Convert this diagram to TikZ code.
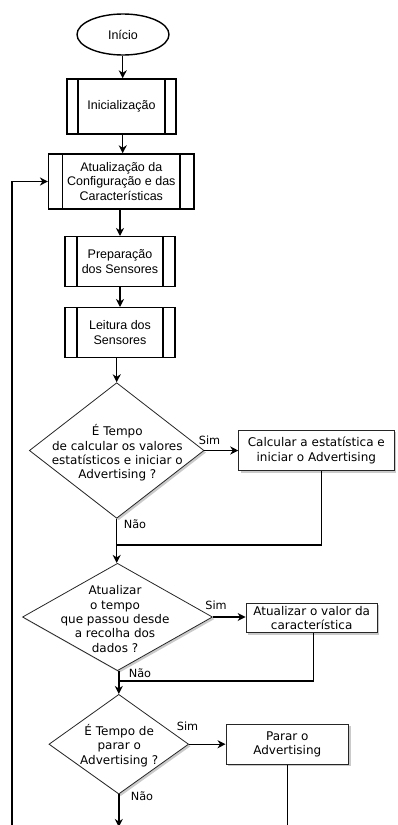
\documentclass[tikz,border=0pt]{standalone}
\usepackage{fontspec}
\setmainfont{Liberation Sans}
\newfontfamily\dejavu{DejaVu Sans}
\usetikzlibrary{shapes.geometric,arrows.meta,shadows}

\tikzset{
  basefont/.style={font=\fontsize{12.5}{14.6}\selectfont},
  lowfont/.style={font=\dejavu\fontsize{12}{14.4}\selectfont},
  labfont/.style={font=\dejavu\fontsize{11.3}{12}\selectfont},
  terminal/.style={ellipse, draw, line width=1.4pt, inner sep=0pt, basefont},
  subproc/.style={rectangle, draw, line width=1.4pt, inner sep=0pt, align=center, basefont,
    path picture={
      \draw[line width=1.4pt]
        ([xshift=#1]path picture bounding box.north west) -- ([xshift=#1]path picture bounding box.south west)
        ([xshift=-#1]path picture bounding box.north east) -- ([xshift=-#1]path picture bounding box.south east);
    }},
  shadowed/.style={drop shadow={shadow xshift=2pt, shadow yshift=-2pt, opacity=0.35, fill=black!60}},
  procbox/.style={rectangle, draw=black!85, line width=0.8pt, fill=white, shadowed, inner sep=0pt, align=center, lowfont},
  decision/.style={diamond, draw=black!85, line width=0.8pt, fill=white, shadowed, inner sep=0pt},
  dectext/.style={align=center, inner sep=0pt, lowfont},
  lab/.style={inner sep=0pt, labfont},
  link/.style={line width=1.4pt, line join=miter},
  arr/.style={link, -{Stealth[length=8pt, width=8pt, inset=2.5pt]}},
}

\begin{document}
\begin{tikzpicture}[x=1pt, y=-1pt]
  \useasboundingbox (0,0) rectangle (397,825);
  \clip (0,0) rectangle (397,825);

  % main column
  \node[terminal, minimum width=92pt, minimum height=41pt] (start) at (123,34.5) {Início};
  \node[subproc=11pt, minimum width=109pt, minimum height=55pt] (init) at (121.5,106.5) {Inicialização};
  \node[subproc=14pt, minimum width=145.3pt, minimum height=55pt] (update) at (121.3,181.5)
    {Atualização da\\Configuração e das\\Características};
  \node[subproc=12pt, minimum width=110pt, minimum height=50pt] (prep) at (120,261.7)
    {Preparação\\dos Sensores};
  \node[subproc=12pt, minimum width=110pt, minimum height=49.6pt] (read) at (120,332.5)
    {Leitura dos\\Sensores};

  % decisions
  \node[decision, minimum width=174.7pt, minimum height=135.6pt] (d1) at (116.7,450.5) {};
  \node[dectext] (d1t) at (117.3,453) {É Tempo\\de calcular os valores\\estatísticos e iniciar o\\Advertising ?};
  \node[decision, minimum width=190pt, minimum height=107.4pt] (d2) at (117.5,617) {};
  \node[dectext] (d2t) at (115,619) {Atualizar\\o tempo\\que passou desde\\a recolha dos\\dados ?};
  \node[decision, minimum width=139.7pt, minimum height=99.7pt] (d3) at (118.8,744.2) {};
  \node[dectext] (d3t) at (119.2,745.3) {É Tempo de\\parar o\\Advertising ?};

  % actions
  \node[procbox, minimum width=155.3pt, minimum height=40.7pt] (calc) at (316.3,450.3)
    {Calcular a estatística e\\iniciar o Advertising};
  \node[procbox, minimum width=131.3pt, minimum height=29.4pt] (feat) at (311.7,618)
    {Atualizar o valor da\\característica};
  \node[procbox, minimum width=122.7pt, minimum height=40.3pt] (stop) at (287.3,744.2)
    {Parar o\\Advertising};

  % free ends and junctions
  \coordinate (j1) at (116.7,545);
  \coordinate (j2) at (118.8,681);
  \coordinate (loopend) at (12,830);
  \coordinate (d3out) at (118.8,827);
  \coordinate (stopout) at (287.3,830);

  % connectors of the main column
  \draw[arr] (start.south -| 122.7,0) -- (init.north -| 122.7,0);
  \draw[arr] (init.south -| 122.7,0) -- (update.north -| 122.7,0);
  \draw[arr] (update.south -| 120,0) -- (prep.north -| 120,0);
  \draw[arr] (prep) -- (read);
  \draw[arr] (read.south -| d1.north) -- (d1.north);
  \draw[arr] (d1.south) -- (d2.north -| d1.south);
  \draw[arr] (d3.north |- d2.south) -- (d3.north);
  \draw[arr] (d3.south) -- (d3out);

  % branches
  \draw[arr] (d1.east) -- (calc.west |- d1.east);
  \draw[link] ([xshift=5.4pt]calc.south) |- (j1);
  \draw[arr] (d2.east) -- (feat.west |- d2.east);
  \draw[link] ([xshift=1.6pt]feat.south) |- (j2);
  \draw[arr] (d3.east) -- (stop.west |- d3.east);
  \draw[link] (stop.south) -- (stopout);

  % loop back to the update step
  \draw[arr] (loopend) |- (update.west);

  % branch labels
  \node[lab] (s1) at (209.5,440) {Sim};
  \node[lab] (n1) at (135,524) {Não};
  \node[lab] (s2) at (216,605) {Sim};
  \node[lab] (n2) at (140,673) {Não};
  \node[lab] (s3) at (187.5,726) {Sim};
  \node[lab] (n3) at (142,796) {Não};
\end{tikzpicture}
\end{document}
